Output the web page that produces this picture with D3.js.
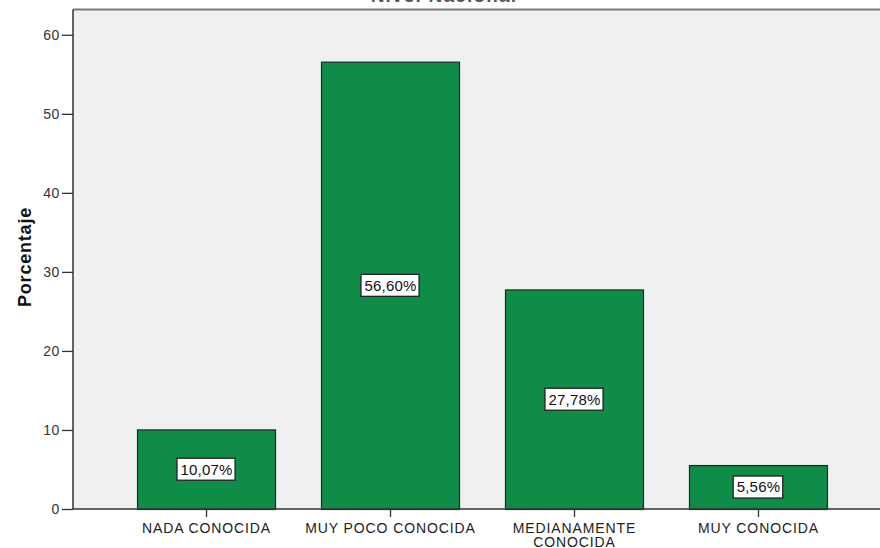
<!DOCTYPE html>
<html>
<head>
<meta charset="utf-8">
<script src="https://cdn.jsdelivr.net/npm/d3@7/dist/d3.min.js"></script>
<style>
  html, body { margin: 0; padding: 0; background: #ffffff; }
  svg { display: block; font-family: "Liberation Sans", Arial, sans-serif; }
</style>
</head>
<body>
<svg id="chart" width="880" height="548"></svg>
<script>
// Survey categories and their percentage of responses
const categories = ["NADA CONOCIDA", "MUY POCO CONOCIDA", "MEDIANAMENTE CONOCIDA", "MUY CONOCIDA"];
const categoryLines = [["NADA CONOCIDA"], ["MUY POCO CONOCIDA"], ["MEDIANAMENTE", "CONOCIDA"], ["MUY CONOCIDA"]];
const percentages = [10.07, 56.60, 27.78, 5.56];
const valueLabels = ["10,07%", "56,60%", "27,78%", "5,56%"];
const yTicks = [0, 10, 20, 30, 40, 50, 60];
const chartTitle = "Nivel Nacional";
const yTitle = "Porcentaje";

const svg = d3.select("#chart");
const plot = { left: 73, top: 9.5, right: 880, bottom: 509 };

const y = d3.scaleLinear().domain([0, 63.2]).range([plot.bottom, plot.top]);
const x = d3.scaleBand()
  .domain(categories)
  .range([plot.left, 891])
  .paddingInner(0.25)
  .paddingOuter(0.348);

// Title (sits above the visible frame)
svg.append("text")
  .attr("x", 444).attr("y", 1.5)
  .attr("text-anchor", "middle")
  .attr("font-size", 19).attr("font-weight", "bold")
  .attr("letter-spacing", 1.2)
  .attr("fill", "#555")
  .text(chartTitle);

// Plot background
svg.append("rect")
  .attr("x", plot.left).attr("y", plot.top)
  .attr("width", plot.right - plot.left + 2).attr("height", plot.bottom - plot.top)
  .attr("fill", "#f0f0f0");

// Top frame line
svg.append("line")
  .attr("x1", plot.left).attr("x2", plot.right)
  .attr("y1", plot.top).attr("y2", plot.top)
  .attr("stroke", "#7a7a7a").attr("stroke-width", 2);

// Bars
svg.append("g").selectAll("rect")
  .data(percentages)
  .join("rect")
  .attr("x", (d, i) => x(categories[i]) + 0.5)
  .attr("y", d => y(d) + 0.5)
  .attr("width", x.bandwidth())
  .attr("height", d => y(0) - y(d))
  .attr("fill", "#0f8c48")
  .attr("stroke", "#1c2a22")
  .attr("stroke-width", 1.2);

// Value labels in white boxes at the bar midpoints
const labels = svg.append("g").selectAll("g")
  .data(percentages)
  .join("g")
  .attr("transform", (d, i) => `translate(${x(categories[i]) + x.bandwidth() / 2 + 0.5},${(y(d) + y(0)) / 2})`);

labels.append("text")
  .attr("text-anchor", "middle")
  .attr("dy", "0.36em")
  .attr("font-size", 15)
  .attr("letter-spacing", 0.2)
  .attr("fill", "#111")
  .text((d, i) => valueLabels[i])
  .each(function () {
    const b = this.getBBox();
    d3.select(this.parentNode).insert("rect", "text")
      .attr("x", b.x - 3.5).attr("y", -11)
      .attr("width", b.width + 6).attr("height", 22)
      .attr("fill", "#ffffff")
      .attr("stroke", "#222")
      .attr("stroke-width", 1.3);
  });

// Y axis
const yAxis = svg.append("g")
  .attr("transform", `translate(${plot.left},0)`)
  .call(d3.axisLeft(y).tickValues(yTicks).tickSize(11).tickPadding(2).tickSizeOuter(0));
yAxis.select(".domain").remove();
yAxis.selectAll(".tick line").attr("stroke", "#333").attr("stroke-width", 1.3);
yAxis.selectAll(".tick text")
  .attr("font-size", 14).attr("fill", "#333")
  .attr("letter-spacing", 0.6)
  .attr("font-family", "'Liberation Sans', Arial, sans-serif");
svg.append("line")
  .attr("x1", plot.left).attr("x2", plot.left)
  .attr("y1", plot.top).attr("y2", plot.bottom)
  .attr("stroke", "#333").attr("stroke-width", 1.5);

// X axis
const xAxis = svg.append("g")
  .attr("transform", `translate(0.5,${plot.bottom})`)
  .call(d3.axisBottom(x).tickSize(8).tickSizeOuter(0));
xAxis.select(".domain").remove();
xAxis.selectAll(".tick line").attr("stroke", "#333").attr("stroke-width", 1.3);
xAxis.selectAll(".tick text").remove();
xAxis.selectAll(".tick").each(function (d, i) {
  const t = d3.select(this).append("text")
    .attr("text-anchor", "middle")
    .attr("font-size", 14)
    .attr("letter-spacing", 0.9)
    .attr("fill", "#222")
    .attr("font-family", "'Liberation Sans', Arial, sans-serif");
  categoryLines[i].forEach((line, k) => {
    t.append("tspan").attr("x", 0).attr("y", 24 + k * 14).text(line);
  });
});
svg.append("line")
  .attr("x1", plot.left).attr("x2", plot.right)
  .attr("y1", plot.bottom).attr("y2", plot.bottom)
  .attr("stroke", "#333").attr("stroke-width", 1.5);

// Y axis title
svg.append("text")
  .attr("transform", `translate(31,257) rotate(-90)`)
  .attr("text-anchor", "middle")
  .attr("font-size", 18).attr("font-weight", "bold")
  .attr("letter-spacing", 0.8)
  .attr("fill", "#111")
  .text(yTitle);
</script>
</body>
</html>
